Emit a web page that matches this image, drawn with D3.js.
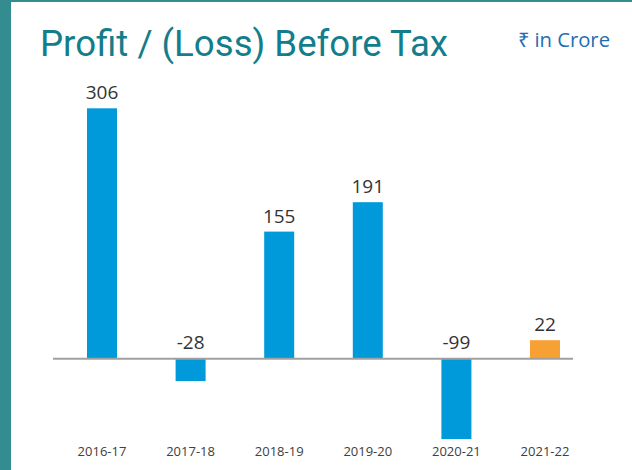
<!DOCTYPE html>
<html>
<head>
<meta charset="utf-8">
<script src="https://cdn.jsdelivr.net/npm/d3@7"></script>
<style>
  body { margin: 0; background: #fff; }
</style>
</head>
<body>
<script>
// data
var years = ["2016-17", "2017-18", "2018-19", "2019-20", "2020-21", "2021-22"];
var values = [306, -28, 155, 191, -99, 22];
var barColours = ["#009ADB", "#009ADB", "#009ADB", "#009ADB", "#009ADB", "#F7A034"];

var width = 632, height = 470;

var svg = d3.select("body").append("svg")
  .attr("width", width)
  .attr("height", height);

// teal frame at left and top
svg.append("rect")
  .attr("x", 0).attr("y", 0)
  .attr("width", 11).attr("height", height)
  .style("fill", "#338C90");
svg.append("rect")
  .attr("x", 0).attr("y", 0)
  .attr("width", width).attr("height", 2)
  .style("fill", "#338C90");

svg.append("text")
  .attr("x", 40)
  .attr("y", 56)
  .attr("textLength", 408)
  .attr("lengthAdjust", "spacingAndGlyphs")
  .style("font-family", "Roboto")
  .style("font-size", "36px")
  .style("fill", "#137D8B")
  .text("Profit / (Loss) Before Tax");

svg.append("text")
  .attr("x", 518)
  .attr("y", 47)
  .attr("textLength", 92)
  .attr("lengthAdjust", "spacingAndGlyphs")
  .style("font-family", "'Open Sans'")
  .style("font-size", "20px")
  .style("fill", "#1F6DB3")
  .text("₹ in Crore");

var x = d3.scaleBand()
  .domain(years)
  .range([57.7, 589.3])
  .paddingInner(0.66)
  .paddingOuter(0.33);

var y = d3.scaleLinear()
  .domain([-99, 306])
  .range([439, 108.3]);

var data = years.map((d, i) => ({year: d, value: values[i], colour: barColours[i]}));

svg.selectAll("rect.bar")
  .data(data)
  .enter()
  .append("rect")
  .attr("class", "bar")
  .attr("x", d => x(d.year) + x.bandwidth() / 2 - 15)
  .attr("width", 30)
  .attr("y", d => y(Math.max(0, d.value)))
  .attr("height", d => Math.abs(y(d.value) - y(0)))
  .style("fill", d => d.colour);

// zero line
svg.append("line")
  .attr("x1", 53)
  .attr("x2", 573)
  .attr("y1", y(0) + 0.5)
  .attr("y2", y(0) + 0.5)
  .style("stroke", "#A0A0A0")
  .style("stroke-width", 2);

svg.selectAll("text.valueLabel")
  .data(data)
  .enter()
  .append("text")
  .attr("class", "valueLabel")
  .attr("x", d => x(d.year) + x.bandwidth() / 2)
  .attr("y", d => d.value >= 0 ? y(d.value) - 9 : y(0) - 9)
  .attr("text-anchor", "middle")
  .style("font-family", "'Open Sans'")
  .style("font-size", "19px")
  .style("fill", "#333333")
  .text(d => d.value);

svg.selectAll("text.yearLabel")
  .data(data)
  .enter()
  .append("text")
  .attr("class", "yearLabel")
  .attr("x", d => x(d.year) + x.bandwidth() / 2)
  .attr("y", 456)
  .attr("text-anchor", "middle")
  .style("font-family", "'Open Sans'")
  .style("font-size", "13px")
  .style("fill", "#404040")
  .text(d => d.year);
</script>
</body>
</html>
